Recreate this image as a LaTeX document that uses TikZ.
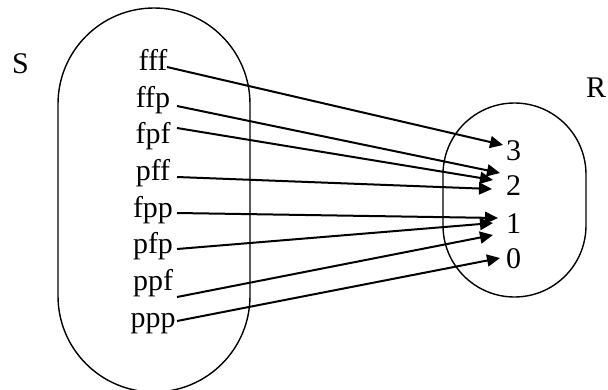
\documentclass[tikz,border=0pt]{standalone}
\usepackage{fontspec}
\setmainfont{Liberation Serif}
\usetikzlibrary{arrows.meta,calc}

\begin{document}
\begin{tikzpicture}[x=1pt,y=-1pt,
  lab/.style={inner sep=0pt,anchor=base,font=\fontsize{30}{36}\selectfont},
  val/.style={inner sep=0pt,anchor=base west,font=\fontsize{30}{36}\selectfont},
  setline/.style={line width=1.4pt},
  mapto/.style={line width=2pt,-{Triangle[length=13pt,width=12pt]}}]
\useasboundingbox (0,0) rectangle (608,389);

% the two sets
\draw[setline] (58,104) -- (58,296) arc (180:0:96) -- (250,104) arc (0:-180:96) -- cycle;
\draw[setline] (443,174.5) -- (443,225.5) arc (180:0:71.5) -- (586,174.5) arc (0:-180:71.5) -- cycle;

% set names
\node[val] (S) at (12,73) {S};
\node[val] (R) at (586,97) {R};

% outcomes
\node[lab] (fff) at (153,70)  {fff};
\node[lab] (ffp) at (153,107) {ffp};
\node[lab] (fpf) at (153,143) {fpf};
\node[lab] (pff) at (153,180) {pff};
\node[lab] (fpp) at (153,217) {fpp};
\node[lab] (pfp) at (153,253) {pfp};
\node[lab] (ppf) at (153,290) {ppf};
\node[lab] (ppp) at (153,327) {ppp};

% values
\node[val] (v3) at (506,160) {3};
\node[val] (v2) at (506,195) {2};
\node[val] (v1) at (506,233) {1};
\node[val] (v0) at (506,268) {0};

% the mapping
\draw[mapto] ($(fff.base)+(14,-3)$)  -- ($(v3.base west)+(-3,-15)$);
\draw[mapto] ($(ffp.base)+(24,-1)$)  -- ($(v2.base west)+(-6,-22)$);
\draw[mapto] ($(fpf.base)+(24,-15)$) -- ($(v2.base west)+(-13,-15)$);
\draw[mapto] ($(pff.base)+(24,-3)$)  -- ($(v2.base west)+(-14,-6)$);
\draw[mapto] ($(fpp.base)+(24,-4)$)  -- ($(v1.base west)+(-8,-15)$);
\draw[mapto] ($(pfp.base)+(24,-4)$)  -- ($(v1.base west)+(-13,-10)$);
\draw[mapto] ($(ppf.base)+(24,7)$)   -- ($(v1.base west)+(-13,2)$);
\draw[mapto] ($(ppp.base)+(24,-6)$)  -- ($(v0.base west)+(-6,-10)$);
\end{tikzpicture}
\end{document}
